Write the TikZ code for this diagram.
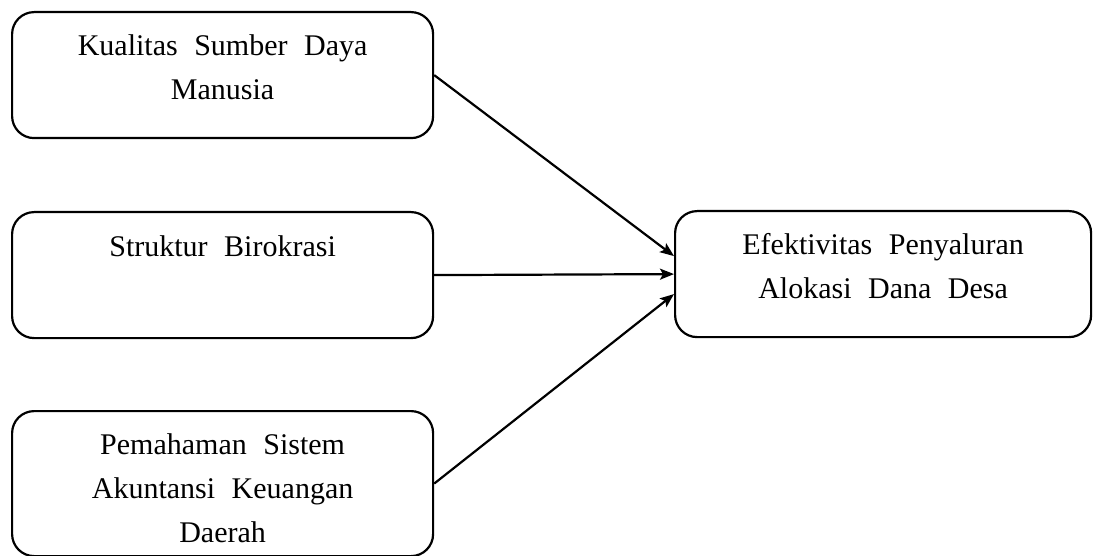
\documentclass[tikz,border=0pt]{standalone}
\usepackage{fontspec}
\setmainfont{Liberation Serif}
\usetikzlibrary{positioning,arrows.meta,calc}
\tikzset{
  kotak/.style={draw, line width=2.2pt, rounded corners=22pt, anchor=north west,
    minimum width=421pt, minimum height=126pt, inner sep=0pt},
  teks/.style={align=center, inner sep=0pt, font=\fontsize{30}{44}\selectfont,
    execute at begin node={\spaceskip=0.55em\relax}},
  panah/.style={-{Stealth[length=14pt,width=11pt,inset=3pt]}, line width=2.2pt}
}
\begin{document}
\begin{tikzpicture}[x=1pt,y=-1pt]
    \useasboundingbox (0,0) rectangle (1095,556);
    % kotak variabel
    \node[kotak] (sdm) at (11,11) {};
    \node[kotak] (birokrasi) at (11,211) {};
    \node[kotak, minimum height=145pt] (sistem) at (11,410) {};
    \node[kotak, minimum width=416pt] (efek) at (674,210) {};
    % teks
    \node[teks, below=23pt of sdm.north] (tsdm) {Kualitas Sumber Daya\\Manusia};
    \node[teks, below=24pt of birokrasi.north] (tbirokrasi) {Struktur Birokrasi};
    \node[teks, below=23pt of sistem.north] (tsistem) {Pemahaman Sistem\\Akuntansi Keuangan\\Daerah};
    \node[teks, below=23pt of efek.north] (tefek) {Efektivitas Penyaluran\\Alokasi Dana Desa};
    % panah
    \draw[panah] (sdm.east) -- ($(efek.west)+(0,-18)$);
    \draw[panah] (birokrasi.east) -- (efek.west);
    \draw[panah] (sistem.east) -- ($(efek.west)+(0,20)$);
\end{tikzpicture}
\end{document}
